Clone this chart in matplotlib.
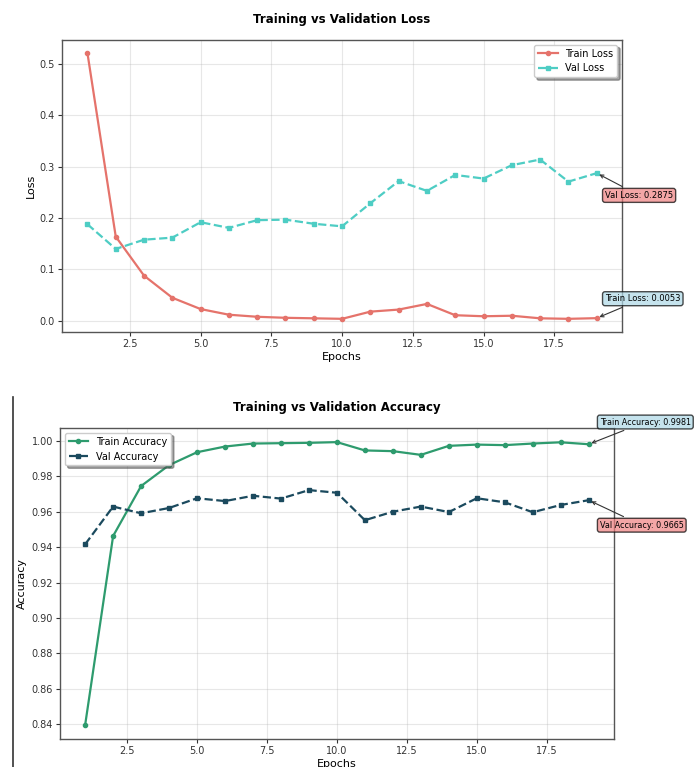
import matplotlib
matplotlib.use("Agg")
import matplotlib.pyplot as plt
from matplotlib.lines import Line2D

epochs = list(range(1, 20))

train_loss = [0.521, 0.164, 0.088, 0.045, 0.023, 0.012, 0.008, 0.006, 0.005, 0.004,
              0.018, 0.022, 0.033, 0.011, 0.009, 0.010, 0.005, 0.004, 0.0053]
val_loss = [0.188, 0.140, 0.158, 0.162, 0.192, 0.181, 0.196, 0.197, 0.189, 0.184,
            0.229, 0.272, 0.253, 0.284, 0.277, 0.303, 0.314, 0.271, 0.2875]

train_acc = [0.8396, 0.9463, 0.9745, 0.9863, 0.9936, 0.9968, 0.9985, 0.9987, 0.9989, 0.9993,
             0.9946, 0.9942, 0.9921, 0.9972, 0.9979, 0.9976, 0.9985, 0.9992, 0.9981]
val_acc = [0.9416, 0.9629, 0.9591, 0.9621, 0.9676, 0.9660, 0.9690, 0.9674, 0.9722, 0.9707,
           0.9552, 0.9600, 0.9629, 0.9598, 0.9676, 0.9653, 0.9597, 0.9638, 0.9665]

fig = plt.figure(figsize=(6.95, 7.67), dpi=100)
ax1 = fig.add_axes([0.0892, 0.567, 0.806, 0.381])
ax2 = fig.add_axes([0.0863, 0.0365, 0.797, 0.4055])

tick_fs = 7
label_fs = 8
title_fs = 8.5


def style_axes(ax):
    ax.grid(True, alpha=0.3)
    ax.tick_params(labelsize=tick_fs, colors='#333333', length=3, pad=2)
    for sp in ax.spines.values():
        sp.set_color('#555555')
        sp.set_linewidth(1.0)


# loss
ax1.plot(epochs, train_loss, color='#E5736B', marker='o', markersize=3, lw=1.6, label='Train Loss')
ax1.plot(epochs, val_loss, color='#4ECDC4', marker='s', markersize=3, lw=1.6, ls='--', label='Val Loss')
ax1.set_title('Training vs Validation Loss', fontsize=title_fs, fontweight='bold', pad=12)
ax1.set_xlabel('Epochs', fontsize=label_fs, labelpad=2)
ax1.set_ylabel('Loss', fontsize=label_fs, labelpad=3)
ax1.legend(loc='upper right', fontsize=7, shadow=True, fancybox=True)
style_axes(ax1)

ax1.annotate(f'Val Loss: {val_loss[-1]:.4f}', xy=(epochs[-1], val_loss[-1]),
             xytext=(6, -16), textcoords='offset points', fontsize=6, va='center',
             bbox=dict(boxstyle='round,pad=0.3', fc='lightcoral', alpha=0.7),
             arrowprops=dict(arrowstyle='->', color='#333333', lw=0.8))
ax1.annotate(f'Train Loss: {train_loss[-1]:.4f}', xy=(epochs[-1], train_loss[-1]),
             xytext=(6, 14), textcoords='offset points', fontsize=6, va='center',
             bbox=dict(boxstyle='round,pad=0.3', fc='lightblue', alpha=0.7),
             arrowprops=dict(arrowstyle='->', color='#333333', lw=0.8))

# accuracy
ax2.plot(epochs, train_acc, color='#2E9B6E', marker='o', markersize=3, lw=1.6, label='Train Accuracy')
ax2.plot(epochs, val_acc, color='#1B4A5E', marker='s', markersize=3, lw=1.6, ls='--', label='Val Accuracy')
ax2.set_title('Training vs Validation Accuracy', fontsize=title_fs, fontweight='bold', pad=12)
ax2.set_xlabel('Epochs', fontsize=label_fs, labelpad=2)
ax2.set_ylabel('Accuracy', fontsize=label_fs, labelpad=3)
ax2.legend(loc='upper left', fontsize=7, shadow=True, fancybox=True)
style_axes(ax2)

ax2.annotate(f'Train Accuracy: {train_acc[-1]:.4f}', xy=(epochs[-1], train_acc[-1]),
             xytext=(8, 16), textcoords='offset points', fontsize=5.8, va='center',
             bbox=dict(boxstyle='round,pad=0.3', fc='lightblue', alpha=0.7),
             arrowprops=dict(arrowstyle='->', color='#333333', lw=0.8))
ax2.annotate(f'Val Accuracy: {val_acc[-1]:.4f}', xy=(epochs[-1], val_acc[-1]),
             xytext=(8, -18), textcoords='offset points', fontsize=5.8, va='center',
             bbox=dict(boxstyle='round,pad=0.3', fc='lightcoral', alpha=0.7),
             arrowprops=dict(arrowstyle='->', color='#333333', lw=0.8))

# stitching edge on the left of the lower image
fig.add_artist(Line2D([13 / 695, 13 / 695], [0, 370 / 767], transform=fig.transFigure,
                      color='#333333', lw=1.2))

fig.savefig('out.png', dpi=100)
